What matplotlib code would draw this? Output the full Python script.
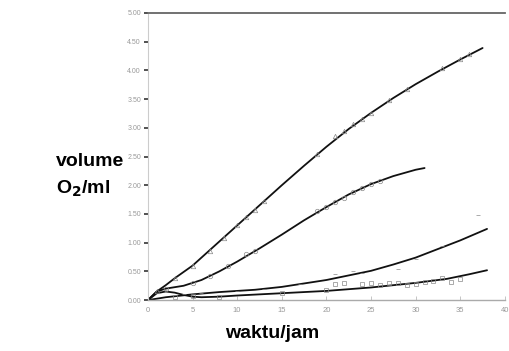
import matplotlib
matplotlib.use('Agg')
import matplotlib.pyplot as plt

# kurva (garis halus)
x1 = [0, 1, 2, 3, 5, 7.5, 10, 12.5, 15, 17.5, 20, 22.5, 25, 27.5, 30, 32.5, 35, 37.5]
y1 = [0, 0.15, 0.26, 0.38, 0.6, 0.95, 1.3, 1.65, 2.0, 2.34, 2.67, 2.98, 3.26, 3.52, 3.76, 3.98, 4.19, 4.39]

x2 = [0, 1, 2, 4, 6, 8, 10, 12.5, 15, 17.5, 20, 22.5, 25, 27.5, 30, 31]
y2 = [0, 0.15, 0.2, 0.25, 0.35, 0.5, 0.67, 0.9, 1.14, 1.39, 1.62, 1.84, 2.02, 2.16, 2.27, 2.30]

x3 = [0, 2, 5, 8, 12, 15, 20, 25, 27.5, 30, 33.5, 35, 38]
y3 = [0, 0.05, 0.1, 0.14, 0.18, 0.23, 0.35, 0.51, 0.62, 0.74, 0.95, 1.04, 1.24]

x4 = [0, 1, 2, 3, 4, 5, 6, 8, 10, 12.5, 15, 20, 25, 30, 33.5, 36, 38]
y4 = [0, 0.12, 0.15, 0.13, 0.09, 0.06, 0.05, 0.06, 0.08, 0.1, 0.12, 0.16, 0.22, 0.3, 0.37, 0.45, 0.52]

# titik pengamatan
px1 = [1, 3, 5, 7, 8.5, 10, 11, 12, 13, 19, 21, 22, 23, 24, 25, 27, 29, 33, 35, 36]
py1 = [0.16, 0.38, 0.6, 0.86, 1.08, 1.3, 1.44, 1.57, 1.72, 2.55, 2.86, 2.95, 3.06, 3.15, 3.26, 3.48, 3.68, 4.05, 4.2, 4.28]
px2 = [2, 5, 7, 9, 11, 12, 19, 20, 21, 22, 23, 24, 25, 26]
py2 = [0.2, 0.3, 0.42, 0.6, 0.8, 0.85, 1.55, 1.62, 1.7, 1.78, 1.88, 1.95, 2.02, 2.08]
px3 = [4, 6, 10, 13, 17, 21, 23, 24, 28, 30, 33, 37]
py3 = [0.1, 0.12, 0.16, 0.2, 0.28, 0.45, 0.5, 0.48, 0.55, 0.72, 0.95, 1.48]
px4 = [3, 5, 8, 15, 20, 21, 22, 24, 25, 26, 27, 28, 29, 30, 31, 32, 33, 34, 35]
py4 = [0.05, 0.07, 0.06, 0.12, 0.18, 0.28, 0.3, 0.28, 0.3, 0.26, 0.3, 0.3, 0.27, 0.28, 0.32, 0.33, 0.38, 0.32, 0.36]

yticks = [0, 0.5, 1.0, 1.5, 2.0, 2.5, 3.0, 3.5, 4.0, 4.5, 5.0]
xticks = [0, 5, 10, 15, 20, 25, 30, 35, 40]

plt.rcParams['font.family'] = ['Liberation Sans', 'DejaVu Sans']

fig = plt.figure(figsize=(5.10, 3.51), dpi=100)
ax = fig.add_axes([0.290, 0.145, 0.700, 0.818])

for xs, ys in [(x1, y1), (x2, y2), (x3, y3), (x4, y4)]:
    ax.plot(xs, ys, color='#111111', linewidth=1.3, solid_capstyle='round',
            solid_joinstyle='round')

mk = dict(color='#888888', linewidth=0, markersize=3.2, markeredgewidth=0.5)
ax.plot(px1, py1, marker='^', markerfacecolor='none', **mk)
ax.plot(px2, py2, marker='o', markerfacecolor='none', **mk)
ax.plot(px3, py3, marker='_', **mk)
ax.plot(px4, py4, marker='s', markerfacecolor='none', **mk)

ax.set_xlim(0, 40)
ax.set_ylim(0, 5)
ax.set_yticks(yticks)
ax.set_yticklabels([f'{v:.2f}' for v in yticks])
ax.set_xticks(xticks)
ax.set_xticklabels([str(v) for v in xticks])
ax.tick_params(axis='y', direction='out', length=3, width=1.2, color='#333333',
               labelsize=5, labelcolor='#999999', pad=2)
ax.tick_params(axis='x', direction='in', length=3, width=0.6, color='#bbbbbb',
               labelsize=5.5, labelcolor='#999999', pad=5)

ax.spines['right'].set_visible(False)
ax.spines['top'].set_color('#666666')
ax.spines['top'].set_linewidth(1.3)
ax.spines['left'].set_color('#cccccc')
ax.spines['left'].set_linewidth(0.8)
ax.spines['bottom'].set_color('#aaaaaa')
ax.spines['bottom'].set_linewidth(1.0)

fig.text(56 / 510, 1 - 162 / 351, 'volume', fontsize=14, fontweight='bold',
         ha='left', va='center')
fig.text(56 / 510, 1 - 189 / 351, r'O$_\mathbf{2}$/ml', fontsize=14, fontweight='bold',
         ha='left', va='center')
fig.text(272 / 510, 1 - 334 / 351, 'waktu/jam', fontsize=14, fontweight='bold',
         ha='center', va='center')

fig.savefig('out.png', dpi=100, facecolor='white')
